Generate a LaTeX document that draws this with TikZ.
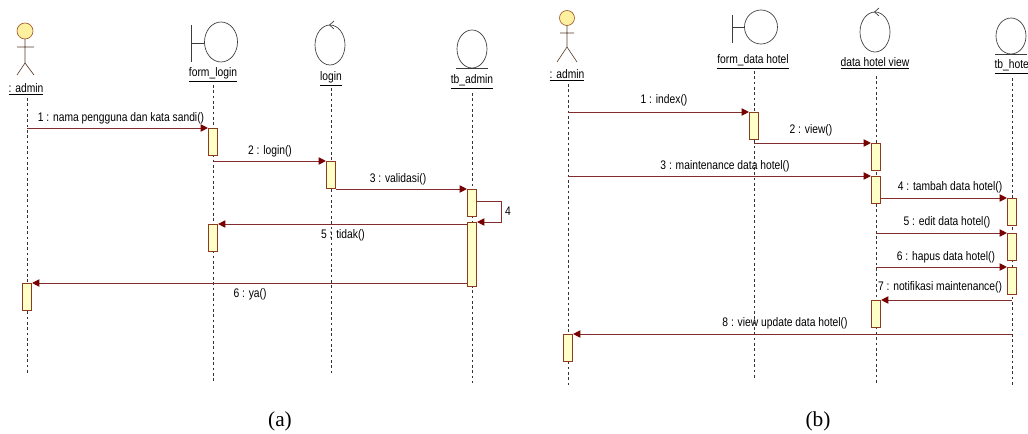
\documentclass[tikz,border=0pt]{standalone}
\usepackage{fontspec}
\setmainfont{Liberation Sans}[FakeStretch=0.83]
\newfontfamily\capfont{Liberation Serif}
\usetikzlibrary{arrows.meta}
\definecolor{msgc}{RGB}{130,45,45}
\definecolor{tipc}{RGB}{120,0,0}
\definecolor{actc}{RGB}{140,60,30}
\definecolor{actf}{RGB}{255,255,200}
\definecolor{headf}{RGB}{255,240,160}
\definecolor{headc}{RGB}{160,90,40}
\definecolor{bodyc}{RGB}{90,60,40}
\definecolor{iconc}{RGB}{60,60,60}
\begin{document}
\begin{tikzpicture}[x=0.75pt,y=-0.75pt,
  lbl/.style={font=\fontsize{9.3}{11}\selectfont, inner sep=0pt},
  hd/.style={font=\fontsize{9.3}{11}\selectfont, inner sep=1pt},
  life/.style={draw=black!80, line width=0.4pt, dash pattern=on 2pt off 2pt},
  act/.style={draw=actc, fill=actf, line width=0.6pt, minimum width=7pt, minimum height=20pt, inner sep=0pt, anchor=north},
  msg/.style={draw=msgc, line width=0.7pt, -{Triangle[length=5.5pt,width=5.5pt,color=tipc]}},
  icon/.style={draw=iconc, line width=0.5pt},
  captxt/.style={font=\capfont\fontsize{16}{18}\selectfont, inner sep=0pt}]
\useasboundingbox (0,0) rectangle (1028,434);
\fill[white] (0,0) rectangle (1028,434);
\begin{scope}
\clip (0,0) rectangle (1028,434);
% ---------------- panel (a) icons
\draw[headc, fill=headf, line width=0.5pt] (25,31) circle[radius=8];
\draw[bodyc, line width=0.5pt] (25,39)--(25,63) (17,47)--(34,47) (25,63)--(17,75) (25,63)--(34,75);
\draw[icon] (191,25)--(191,62) (191,43)--(204.5,43);
\draw[icon] (221,42) ellipse[x radius=16.5, y radius=20];
\draw[icon] (330,45) ellipse[x radius=15, y radius=20];
\draw[icon] (334,21)--(329.5,25)--(334,29);
\draw[icon] (472,49) ellipse[x radius=15, y radius=19];
\draw[icon] (456,68)--(488,68);
% ---------------- panel (b) icons
\draw[headc, fill=headf, line width=0.5pt] (567,18) circle[radius=7.5];
\draw[bodyc, line width=0.5pt] (567,25.5)--(567,47) (560,33)--(574,33) (567,47)--(557,62) (567,47)--(577,62);
\draw[icon] (732,15)--(732,43) (732,27)--(745,27);
\draw[icon] (761,27) ellipse[x radius=16.5, y radius=17];
\draw[icon] (875,32) ellipse[x radius=15, y radius=20];
\draw[icon] (879,8)--(874.5,12)--(879,16);
\draw[icon] (1011,36) ellipse[x radius=15, y radius=18];
\draw[icon] (995,54)--(1027,54);
\end{scope}
% ---------------- heads
\node[hd] (hA) at (26,89) {\underline{: admin}};
\node[hd] (hF) at (213,75) {\underline{form\_login}};
\node[hd] (hL) at (331,79) {\underline{login}};
\node[hd] (hT) at (472,82) {\underline{tb\_admin}};
\node[hd] (hbA) at (567,75) {\underline{: admin}};
\node[hd] (hbF) at (753,62) {\underline{form\_data hotel}};
\node[hd] (hbV) at (875,63) {\underline{data hotel view}};
\node[hd, anchor=west] (hbT) at (993,67) {\underline{tb\_hote}};
% ---------------- lifelines
\coordinate (lA) at (27,98);   \coordinate (eA) at (27,375);
\coordinate (lF) at (213,85);  \coordinate (eF) at (213,383);
\coordinate (lL) at (331,88);  \coordinate (eL) at (331,375);
\coordinate (lT) at (472,93);  \coordinate (eT) at (472,383);
\coordinate (lbA) at (568,84); \coordinate (ebA) at (568,385);
\coordinate (lbF) at (754,71); \coordinate (ebF) at (754,380);
\coordinate (lbV) at (876,76); \coordinate (ebV) at (876,385);
\coordinate (lbT) at (1012,78); \coordinate (ebT) at (1012,385);
\foreach \s/\e in {lA/eA,lF/eF,lL/eL,lT/eT,lbA/ebA,lbF/ebF,lbV/ebV,lbT/ebT}
  \draw[life] (\s) -- (\e);
% ---------------- activations (a)
\node[act] (aF1) at (213,128) {};
\node[act] (aL1) at (331,161) {};
\node[act] (aT1) at (472,189) {};
\node[act, minimum height=48pt] (aT2) at (472,222) {};
\node[act] (aF2) at (213,224) {};
\node[act] (aA1) at (27,283) {};
% ---------------- activations (b)
\node[act] (bF1) at (754,112) {};
\node[act] (bV1) at (876,143) {};
\node[act] (bV2) at (876,176) {};
\node[act] (bT1) at (1012,198) {};
\node[act] (bT2) at (1012,233) {};
\node[act] (bT3) at (1012,267) {};
\node[act] (bV3) at (876,300) {};
\node[act] (bA1) at (568,334) {};
% ---------------- messages (a)
\draw[msg] (lA |- aF1.north) -- (aF1.north west);
\draw[msg] (lF |- aL1.north) -- (aL1.north west);
\draw[msg] (aL1.east |- aT1.north) -- (aT1.north west);
\coordinate (s4b) at (501,201);
\coordinate (s4c) at (501,222);
\draw[msg] (aT1.east |- s4b) -- (s4b) -- (s4c) -- (aT2.north east);
\draw[msg] (aT2.west |- aF2.north) -- (aF2.north east);
\draw[msg] (aT2.west |- aA1.north) -- (aA1.north east);
\node[lbl] (ma1) at (121,118) {1 : nama pengguna dan kata sandi()};
\node[lbl] (ma2) at (270,151) {2 : login()};
\node[lbl] (ma3) at (398,179) {3 : validasi()};
\node[lbl] (ma4) at (508,211) {4};
\node[lbl] (ma5) at (343,235) {5 : tidak()};
\node[lbl] (ma6) at (250,294) {6 : ya()};
% ---------------- messages (b)
\draw[msg] (lbA |- bF1.north) -- (bF1.north west);
\draw[msg] (lbF |- bV1.north) -- (bV1.north west);
\draw[msg] (lbA |- bV2.north) -- (bV2.north west);
\draw[msg] (bV2.east |- bT1.north) -- (bT1.north west);
\draw[msg] (lbV |- bT2.north) -- (bT2.north west);
\draw[msg] (lbV |- bT3.north) -- (bT3.north west);
\draw[msg] (lbT |- bV3.north) -- (bV3.north east);
\draw[msg] (lbT |- bA1.north) -- (bA1.north east);
\node[lbl] (mb1) at (664,100) {1 : index()};
\node[lbl] (mb2) at (811,130) {2 : view()};
\node[lbl] (mb3) at (725,166) {3 : maintenance data hotel()};
\node[lbl] (mb4) at (950,187) {4 : tambah data hotel()};
\node[lbl] (mb5) at (947,222) {5 : edit data hotel()};
\node[lbl] (mb6) at (946,257) {6 : hapus data hotel()};
\node[lbl] (mb7) at (940,287) {7 : notifikasi maintenance()};
\node[lbl] (mb8) at (785,323) {8 : view update data hotel()};
% ---------------- captions
\node[captxt] (capa) at (280,421) {(a)};
\node[captxt] (capb) at (818,421) {(b)};
\end{tikzpicture}
\end{document}
